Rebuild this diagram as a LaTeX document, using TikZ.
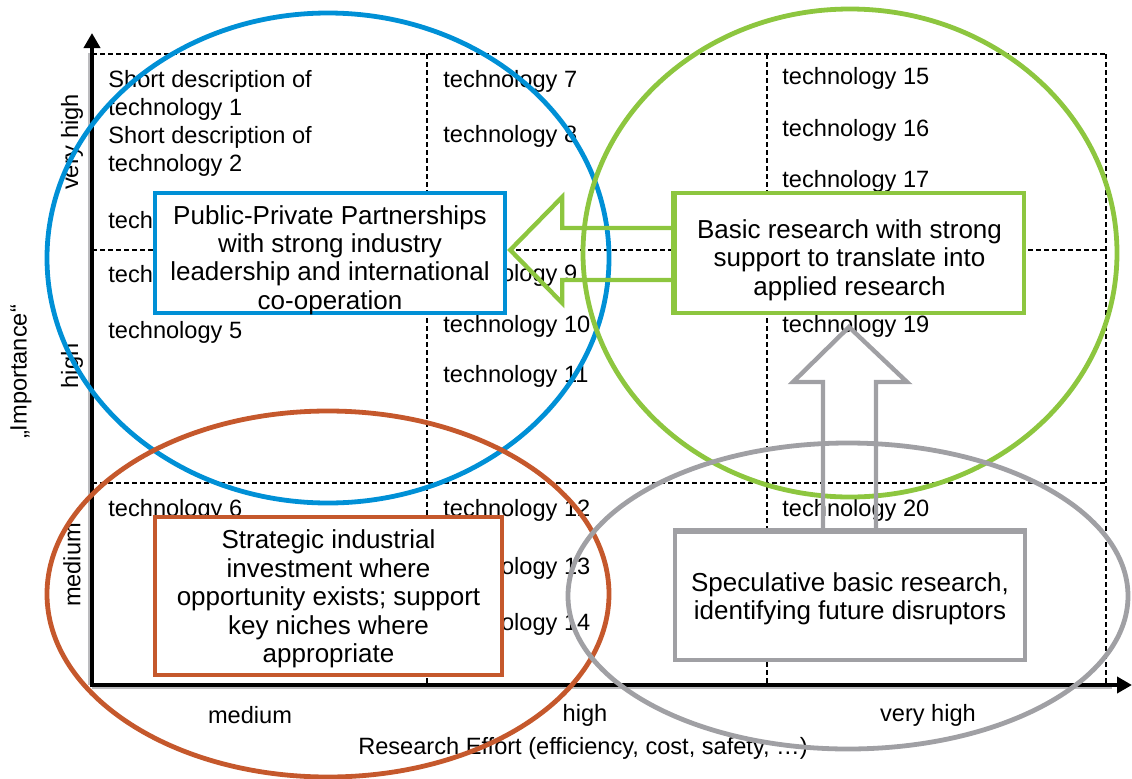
\documentclass[tikz,border=0pt]{standalone}
\usepackage{fontspec}
\setmainfont{Liberation Sans}
\usetikzlibrary{calc,arrows.meta}
\definecolor{cblue}{HTML}{0090D6}
\definecolor{cgreen}{HTML}{8DC63F}
\definecolor{corange}{HTML}{C5582C}
\definecolor{cgray}{HTML}{A0A0A4}
\begin{document}
\begin{tikzpicture}[x=0.5pt,y=-0.5pt,
  grid/.style={dash pattern=on 2.5pt off 1.5pt, line width=0.75pt},
  tech/.style={anchor=base west, inner sep=0pt, font=\fontsize{11.8}{14}\selectfont},
  lab/.style={inner sep=0pt, font=\fontsize{11.8}{14}\selectfont},
  oval/.style={line width=2.4pt},
  box/.style={draw, line width=2.2pt, fill=white, inner sep=0pt},
  boxtext/.style={align=center, inner sep=0pt, font=\fontsize{13}{14.2}\selectfont},
  blockarrow/.style={line width=2.2pt, line join=miter},
  axis/.style={line width=2.3pt, -{Triangle[length=7.5pt,width=8pt]}}]
\useasboundingbox (0,0) rectangle (1132,778);
% grid
\draw[grid] (92,54) -- (1106,54);
\draw[grid] (92,250) -- (1106,250);
\draw[grid] (92,483) -- (1106,483);
\draw[grid] (427,54) -- (427,685);
\draw[grid] (767,54) -- (767,685);
\draw[grid] (1106,54) -- (1106,685);
% technology texts
\node[tech] (t1a) at (108,87) {Short description of};
\node[tech] (t1b) at (108,115) {technology 1};
\node[tech] (t2a) at (108,143) {Short description of};
\node[tech] (t2b) at (108,171) {technology 2};
\node[tech] (t3) at (108,228) {technology 3};
\node[tech] (t4) at (108,282) {technology 4};
\node[tech] (t5) at (108,338) {technology 5};
\node[tech] (t6) at (108,516) {technology 6};
\node[tech] (t7) at (443,87) {technology 7};
\node[tech] (t8) at (443,142) {technology 8};
\node[tech] (t9) at (443,281) {technology 9};
\node[tech] (t10) at (443,332) {technology 10};
\node[tech] (t11) at (443,382) {technology 11};
\node[tech] (t12) at (443,516) {technology 12};
\node[tech] (t13) at (443,574) {technology 13};
\node[tech] (t14) at (443,630) {technology 14};
\node[tech] (t15) at (782,84) {technology 15};
\node[tech] (t16) at (782,136) {technology 16};
\node[tech] (t17) at (782,187) {technology 17};
\node[tech] (t19) at (782,332) {technology 19};
\node[tech] (t20) at (782,516) {technology 20};
% axes
\coordinate (O) at (92,685);
\coordinate (ytop) at (92,33);
\coordinate (xend) at (1132,685);
\draw[cgray!70, line width=1pt] ($(O)+(-3,0)$) -- ($(ytop)+(-3,20)$);
\draw[cgray!70, line width=1pt] ($(O)+(0,3)$) -- ($(xend)+(-20,3)$);
\draw[axis] ($(O)+(0,2)$) -- (ytop);
\draw[axis] ($(O)+(-2,0)$) -- (xend);
% axis labels
\node[lab] (xl1) at (250,715) {medium};
\node[lab] (xl2) at (585,715) {high};
\node[lab] (xl3) at (928,715) {very high};
\node[lab] (xlab) at (583,748) {Research Effort (efficiency, cost, safety, …)};
\node[lab, rotate=90] (yl1) at (72,142) {very high};
\node[lab, rotate=90] (yl2) at (72,366) {high};
\node[lab, rotate=90] (yl3) at (72,565) {medium};
\node[lab, rotate=90] (ylab) at (21,372) {„Importance“};
% ellipses
\draw[oval, cblue] (328,258) ellipse [x radius=140.5pt, y radius=122.5pt];
\draw[oval, cgreen] (850,253) ellipse [x radius=133.5pt, y radius=122pt];
\draw[oval, corange] (328,594) ellipse [x radius=140.5pt, y radius=91.5pt];
\draw[oval, cgray] (848,596) ellipse [x radius=140pt, y radius=76.5pt];
% boxes
\node[box, draw=cblue, minimum width=175pt, minimum height=60pt] (pp) at (330,253) {};
\node[boxtext] (pptext) at ($(pp.center)+(0,7)$) {Public-Private Partnerships\\with strong industry\\leadership and international\\co-operation};
\node[box, draw=cgreen, minimum width=174.5pt, minimum height=60pt] (br) at (849.5,253) {};
\node[boxtext] (brtext) at ($(br.center)+(0,7)$) {Basic research with strong\\support to translate into\\applied research};
% green block arrow from basic research box to PPP box
\coordinate (gtip) at ($(pp.east)+(3,-3)$);
\draw[blockarrow, cgreen] ($(br.west)+(0,-25)$) -- ($(gtip)+(52,-22)$) -- ($(gtip)+(52,-53)$) -- (gtip) -- ($(gtip)+(52,53)$) -- ($(gtip)+(52,30)$) -- ($(br.west)+(0,27)$);
\node[box, draw=corange, minimum width=173.5pt, minimum height=79pt] (si) at (328.5,596) {};
\node[boxtext] (sitext) at ($(si.center)+(0,3)$) {Strategic industrial\\investment where\\opportunity exists; support\\key niches where\\appropriate};
\node[box, draw=cgray, minimum width=175pt, minimum height=64pt] (sb) at (850,596) {};
\node[boxtext] (sbtext) at ($(sb.center)+(0,3)$) {Speculative basic research,\\identifying future disruptors};
% gray block arrow from speculative box upwards
\coordinate (atip) at (849,327);
\draw[blockarrow, cgray] ($(sb.north)+(-27,0)$) -- ($(atip)+(-26,55)$) -- ($(atip)+(-56,55)$) -- (atip) -- ($(atip)+(58,55)$) -- ($(atip)+(27,55)$) -- ($(sb.north)+(26,0)$);
\draw[line width=2.2pt, cgray] (sb.north west) -- (sb.north east);
\draw[line width=2.2pt, cgreen] (br.north west) -- (br.south west);
\end{tikzpicture}
\end{document}
